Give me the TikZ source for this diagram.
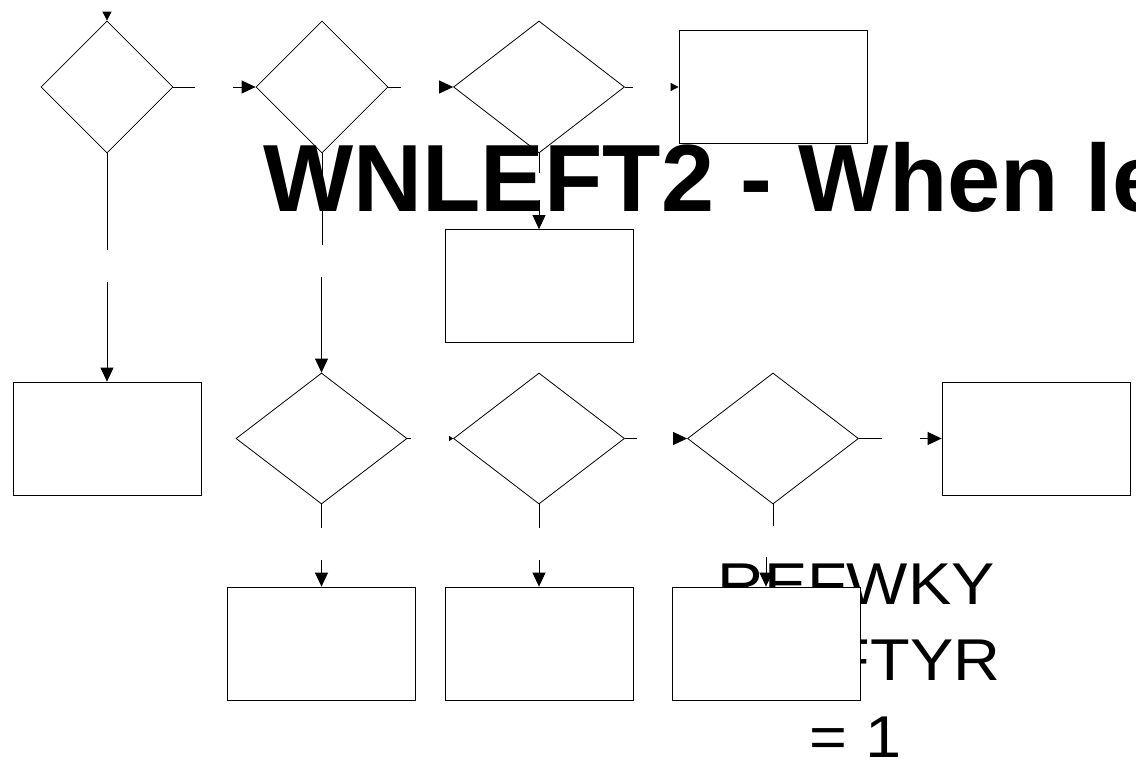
\documentclass[tikz,border=0pt]{standalone}
\usepackage{fontspec}
\setmainfont{Liberation Sans}
\newfontfamily\titlefont{Liberation Sans}
\newfontfamily\notefont[FakeStretch=1.1]{Liberation Sans}
\usetikzlibrary{shapes.geometric,arrows.meta}
\begin{document}
\begin{tikzpicture}[x=1pt,y=-1pt,
  conn/.style={draw=black,line width=0.8pt},
  arr/.style={conn,-{Triangle[length=14pt,width=13pt]}},
  smallarr/.style={conn,-{Triangle[length=8pt,width=8pt]}},
  tinyarr/.style={conn,-{Triangle[length=4pt,width=5pt]}},
  toparr/.style={conn,-{Triangle[length=9pt,width=9pt]}},
  dec/.style={diamond,draw=black,line width=0.8pt,inner sep=0pt},
  proc/.style={rectangle,draw=black,fill=white,line width=0.8pt,inner sep=0pt,minimum width=188pt,minimum height=113pt},
]
\useasboundingbox (0,0) rectangle (1136,763);
\clip (0,0) rectangle (1136,763);

% texts (drawn first, shapes lie over them)
\node[anchor=base west,inner sep=0pt,font=\titlefont\bfseries\fontsize{95.5}{95.5}\selectfont] (title) at (263,211) {WNLEFT2 - When le};
\node[align=center,inner sep=0pt,font=\notefont\fontsize{59}{76.5}\selectfont] (cond) at (856,660.4) {REFWKY\\\hspace*{40pt}LEFTYR\\= 1};

% decisions
\node[dec,minimum width=132pt,minimum height=132pt] (d1) at (107,87) {};
\node[dec,minimum width=132pt,minimum height=132pt] (d2) at (322,87) {};
\node[dec,minimum width=171pt,minimum height=132pt] (d3) at (539,87) {};
\node[dec,minimum width=171pt,minimum height=131pt] (d5) at (321.5,438.5) {};
\node[dec,minimum width=171pt,minimum height=131pt] (d6) at (539,438.5) {};
\node[dec,minimum width=171pt,minimum height=131pt] (d7) at (773,438.5) {};

% processes
\node[proc] (b2) at (773,87) {};
\node[proc] (b3) at (539,286) {};
\node[proc] (b1) at (107,438.5) {};
\node[proc] (b4) at (1036,438.5) {};
\node[proc] (b5) at (321.5,643.5) {};
\node[proc] (b6) at (539,643.5) {};
\node[proc] (b7) at (766,643.5) {};

% connector break points
\coordinate (c0) at (107,12);
\coordinate (a1) at (195,87);   \coordinate (e1) at (233,87);
\coordinate (a2) at (401,87);   \coordinate (e2) at (439,87);
\coordinate (a3) at (633,87);   \coordinate (e3) at (671,87);
\coordinate (a4) at (107,250);  \coordinate (e4) at (107,282);
\coordinate (a5) at (322,245);  \coordinate (e5) at (321.5,277);
\coordinate (a6) at (539,173);  \coordinate (e6) at (539,200);
\coordinate (a7) at (411,438.5); \coordinate (e7) at (449,438.5);
\coordinate (a8) at (637,438.5); \coordinate (e8) at (675,438.5);
\coordinate (a9) at (882,438.5); \coordinate (e9) at (920,438.5);
\coordinate (a10) at (321.5,528); \coordinate (e10) at (321.5,560);
\coordinate (a11) at (539,528);   \coordinate (e11) at (539,560);
\coordinate (a12) at (773,526);   \coordinate (e12) at (766,557);

% connectors
\draw[toparr] (c0) -- (d1.north);
\draw[conn] (d1.east) -- (a1);  \draw[arr] (e1) -- (d2.west);
\draw[conn] (d2.east) -- (a2);  \draw[arr] (e2) -- (d3.west);
\draw[conn] (d3.east) -- (a3);  \draw[smallarr] (e3) -- (b2.west);
\draw[conn] (d1.south) -- (a4); \draw[arr] (e4) -- (b1.north);
\draw[conn] (d2.south) -- (a5); \draw[arr] (e5) -- (d5.north);
\draw[conn] (d3.south) -- (a6); \draw[arr] (e6) -- (b3.north);
\draw[conn] (d5.east) -- (a7);  \draw[tinyarr] (e7) -- (d6.west);
\draw[conn] (d6.east) -- (a8);  \draw[arr] (e8) -- (d7.west);
\draw[conn] (d7.east) -- (a9);  \draw[arr] (e9) -- (b4.west);
\draw[conn] (d5.south) -- (a10); \draw[arr] (e10) -- (b5.north);
\draw[conn] (d6.south) -- (a11); \draw[arr] (e11) -- (b6.north);
\draw[conn] (d7.south) -- (a12); \draw[arr] (e12) -- (b7.north);
\end{tikzpicture}
\end{document}
